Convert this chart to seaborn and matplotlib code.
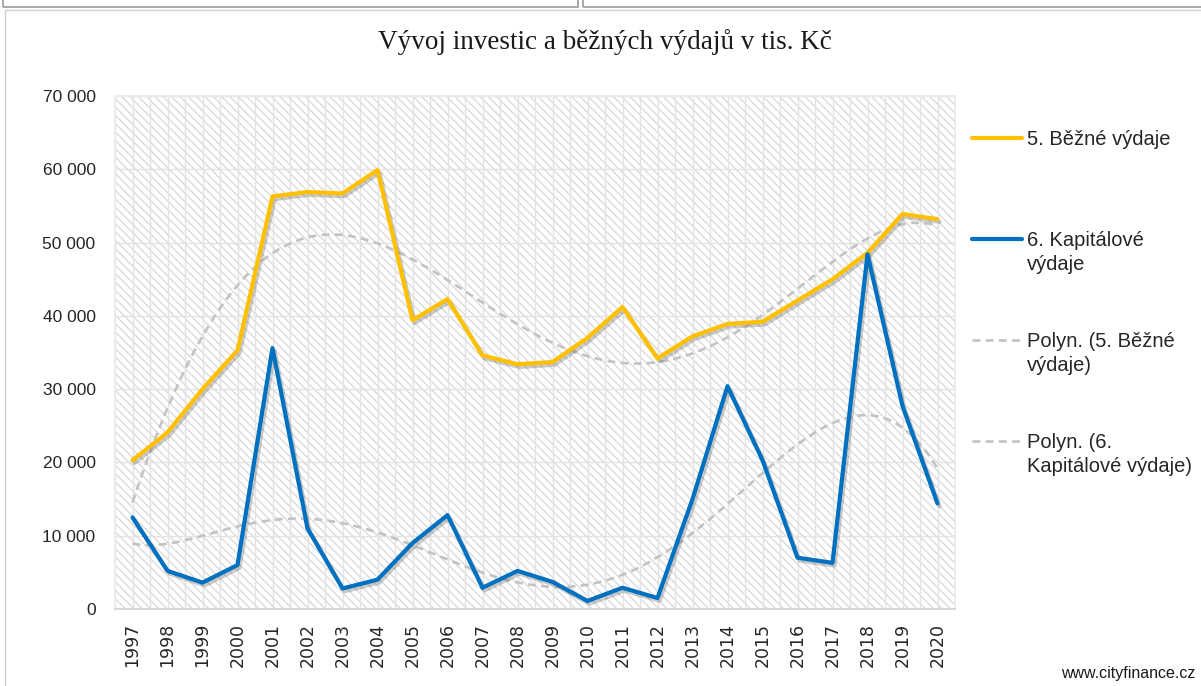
import numpy as np
import pandas as pd
import matplotlib.pyplot as plt
import matplotlib.patheffects as pe
from matplotlib.patches import Rectangle
from matplotlib.ticker import FuncFormatter, MultipleLocator
import seaborn as sns

# data (tis. Kč)
years = list(range(1997, 2021))
bezne = [20300, 24100, 30000, 35300, 56300, 56900, 56700, 59900, 39400, 42300,
         34600, 33400, 33700, 37000, 41200, 34200, 37200, 38900, 39200, 42100,
         45000, 48600, 53900, 53200]
kapitalove = [12500, 5200, 3600, 6000, 35600, 11000, 2800, 4000, 9000, 12800,
              2900, 5200, 3700, 1100, 2900, 1500, 15000, 30400, 20300, 7000,
              6300, 48400, 27700, 14400]
# trailing newline keeps every legend slot two lines tall, like the Excel legend
labels = ["5. Běžné výdaje\n", "6. Kapitálové\nvýdaje",
          "Polyn. (5. Běžné\nvýdaje)", "Polyn. (6.\nKapitálové výdaje)"]

YELLOW = "#FFC000"
BLUE = "#0070C0"
TREND = "#c3c3c3"

df = pd.DataFrame({"idx": np.arange(len(years)), "rok": years,
                   "bezne": bezne, "kapitalove": kapitalove})

sns.set_theme(style="white")
plt.rcParams["font.family"] = ["Liberation Sans", "DejaVu Sans"]
plt.rcParams["hatch.linewidth"] = 0.9

fig = plt.figure(figsize=(12.01, 6.86), dpi=100)
ax = fig.add_axes([115 / 1201, 1 - 609 / 686, 840 / 1201, 513 / 686])

# hatched plot area
ax.add_patch(Rectangle((0, 0), 1, 1, transform=ax.transAxes, facecolor="white",
                       edgecolor="#d8d8d8", hatch="\\\\\\\\", linewidth=0, zorder=0))

shadow = [pe.SimpleLineShadow(offset=(1.5, -2.0), shadow_color="#555555", alpha=0.3),
          pe.Normal()]

# polynomial trend lines (under the data)
sns.regplot(data=df, x="idx", y="bezne", order=5, scatter=False, ci=None, ax=ax,
            label=labels[2], line_kws=dict(color=TREND, lw=1.9, ls=(0, (3, 2)), zorder=2))
sns.regplot(data=df, x="idx", y="kapitalove", order=6, scatter=False, ci=None, ax=ax,
            label=labels[3], line_kws=dict(color=TREND, lw=1.9, ls=(0, (3, 2)), zorder=2))

sns.lineplot(data=df, x="idx", y="bezne", color=YELLOW, lw=3, ax=ax, zorder=4,
             label=labels[0], path_effects=shadow)
sns.lineplot(data=df, x="idx", y="kapitalove", color=BLUE, lw=3, ax=ax, zorder=4,
             label=labels[1], path_effects=shadow)

ax.set_xlim(-0.5, len(years) - 0.5)
ax.set_ylim(0, 70000)
ax.set_xticks(df["idx"])
ax.set_xticklabels(years, rotation=90, fontsize=12.5, family="DejaVu Sans", color="#262626")
ax.xaxis.set_minor_locator(MultipleLocator(1, offset=0.5))
ax.yaxis.set_major_locator(MultipleLocator(10000))
ax.yaxis.set_major_formatter(FuncFormatter(lambda v, _: f"{int(v):,}".replace(",", " ")))
ax.tick_params(axis="y", length=0, pad=14, labelsize=12.5, labelcolor="#262626")
ax.tick_params(axis="x", which="both", length=0, pad=10)
ax.grid(True, which="both", axis="x", color="#e3e3e3", lw=1, zorder=1)
ax.grid(True, which="major", axis="y", color="#e3e3e3", lw=1, zorder=1)
ax.set_axisbelow(True)
ax.set_xlabel("")
ax.set_ylabel("")
for side in ["left", "top", "right"]:
    ax.spines[side].set_color("#ebebeb")
ax.spines["bottom"].set_color("#d4d4d4")
ax.spines["bottom"].set_linewidth(1.3)

handles, labs = ax.get_legend_handles_labels()
order = [labs.index(l) for l in labels]
leg_fs = 14.5
leg_ls = 1.3
leg = ax.legend([handles[i] for i in order], [labs[i] for i in order],
                loc="upper left", bbox_to_anchor=(1.02, 0.933), frameon=False,
                fontsize=leg_fs, handlelength=2.5, handletextpad=0.25, labelspacing=2.9,
                borderpad=0, borderaxespad=0)
for t in leg.get_texts():
    t.set_linespacing(leg_ls)
# put each handle next to the first line of its label
for h in leg.legend_handles:
    h.set_ydata(np.asarray(h.get_ydata()) + leg_fs * leg_ls * 0.53)
    h.set_path_effects([])

fig.text(605 / 1201, 1 - 42 / 686, "Vývoj investic a běžných výdajů v tis. Kč",
         ha="center", va="center", fontsize=19.5, family="Liberation Serif", color="#1a1a1a")
fig.text(0.995, 0.008, "www.cityfinance.cz", ha="right", va="bottom", fontsize=11.5,
         color="#1a1a1a")

# chart frame and the edges of neighbouring boxes
fig.add_artist(Rectangle((5 / 1201, -0.05), 1.2, (686 - 10) / 686 + 0.05,
                         transform=fig.transFigure, fill=False, edgecolor="#d0d0d0", lw=1))
fig.add_artist(Rectangle((3 / 1201, 1 - 7 / 686), 575 / 1201, 0.1,
                         transform=fig.transFigure, fill=False, edgecolor="#9a9a9a", lw=1.2))
fig.add_artist(Rectangle((583 / 1201, 1 - 7 / 686), 0.6, 0.1,
                         transform=fig.transFigure, fill=False, edgecolor="#9a9a9a", lw=1.2))

fig.savefig("out.png", dpi=100)
